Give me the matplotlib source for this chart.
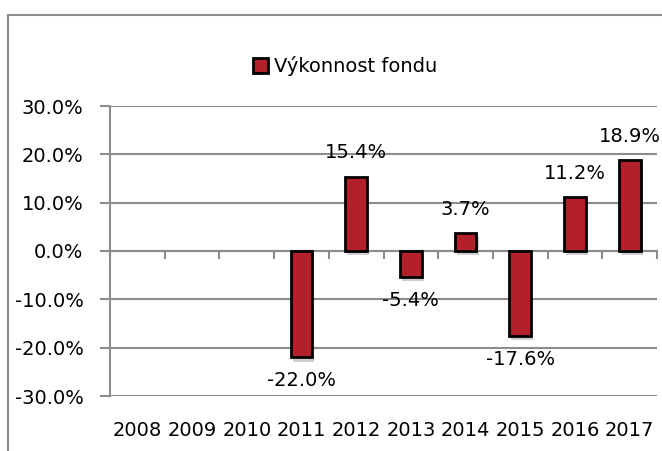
import matplotlib

matplotlib.use('agg')
import matplotlib.pyplot as plt
import matplotlib.patheffects as pe
from matplotlib.patches import Rectangle
import numpy as np

# data
years = ['2008', '2009', '2010', '2011', '2012', '2013', '2014', '2015', '2016', '2017']
performance = [None, None, None, -22.0, 15.4, -5.4, 3.7, -17.6, 11.2, 18.9]
series_name = 'Výkonnost fondu'
yticks = [-30, -20, -10, 0, 10, 20, 30]

plt.rcParams['font.family'] = ['DejaVu Sans']
bar_color = '#B3202A'
grid_color = '#8C8C8C'
fs = 14

fig = plt.figure(figsize=(6.62, 4.51), dpi=100)
ax = fig.add_axes([110 / 662, 55 / 451, 547 / 662, 290 / 451])

# outer chart frame (cut off on right and bottom)
fig.patches.append(Rectangle((8 / 662, -0.1), 1.2, 1 - 15 / 451 + 0.1,
                             transform=fig.transFigure, fill=False,
                             edgecolor=grid_color, lw=1.5, clip_on=False))

x = np.arange(len(years))
idx = [i for i, v in enumerate(performance) if v is not None]
vals = [performance[i] for i in idx]

bars = ax.bar(idx, vals, width=0.4, color=bar_color, edgecolor='black',
              linewidth=2, zorder=3)
for b in bars:
    b.set_path_effects([pe.SimplePatchShadow(offset=(1.5, -3), shadow_rgbFace='#777777',
                                             alpha=0.35), pe.Normal()])

for i, v in zip(idx, vals):
    off = 17 if v > 0 else -17
    ax.annotate('%.1f%%' % v, (i, v), xytext=(0, off), textcoords='offset points',
                ha='center', va='center', fontsize=fs, color='black', zorder=4)

ax.set_xlim(-0.5, len(years) - 0.5)
ax.set_ylim(-30, 30)
ax.set_yticks(yticks)
ax.set_yticklabels(['%.1f%%' % t for t in yticks], fontsize=fs)
ax.yaxis.grid(True, color=grid_color, lw=1.5, zorder=0)
ax.tick_params(axis='y', length=7, width=1.5, color=grid_color, pad=12)

for s in ['top', 'right']:
    ax.spines[s].set_visible(False)
ax.spines['left'].set_color(grid_color)
ax.spines['left'].set_linewidth(1.5)
ax.spines['bottom'].set_position(('data', 0))
ax.spines['bottom'].set_color(grid_color)
ax.spines['bottom'].set_linewidth(1.5)

ax.set_xticks(x)
ax.set_xticklabels([])
ax.tick_params(axis='x', which='major', length=0)
ax.set_xticks(np.arange(len(years) + 1) - 0.5, minor=True)
ax.tick_params(axis='x', which='minor', length=6, width=1.5, color=grid_color,
               direction='out')

for i, y in enumerate(years):
    ax.text(i, -0.12, y, transform=ax.get_xaxis_transform(), ha='center',
            va='center', fontsize=fs)

handle = Rectangle((0, 0), 1, 1, facecolor=bar_color, edgecolor='black', lw=2)
fig.legend([handle], [series_name], loc='center', bbox_to_anchor=(345 / 662, 1 - 66 / 451),
           frameon=False, fontsize=fs, handlelength=0.8, handleheight=0.8,
           handletextpad=0.3)

plt.savefig('out.png', dpi=100)
